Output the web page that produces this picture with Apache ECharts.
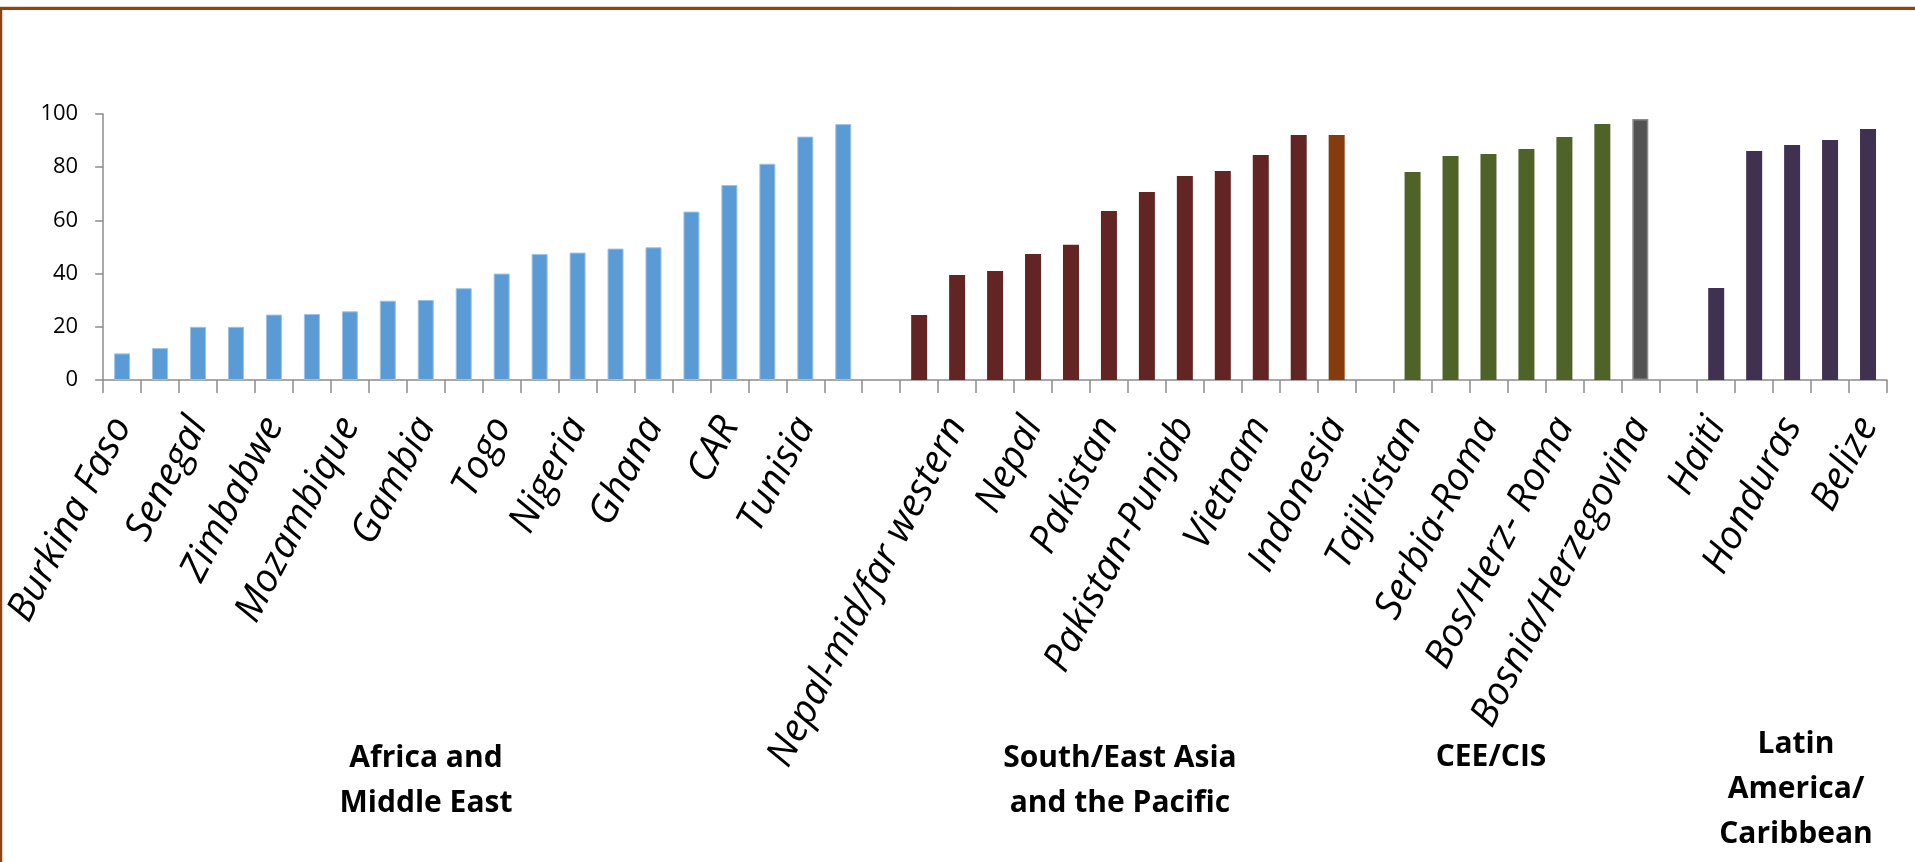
<!DOCTYPE html>
<html>
<head>
<meta charset="utf-8">
<script src="https://cdn.jsdelivr.net/npm/echarts@6/dist/echarts.min.js"></script>
<style>
  html, body { margin: 0; padding: 0; background: #ffffff; }
  #chart { width: 1915px; height: 862px; }
</style>
</head>
<body>
<div id="chart"></div>
<script>
// ---- Data ----
const categories = [
  'Burkina Faso', '', 'Senegal', '', 'Zimbabwe', '', 'Mozambique', '', 'Gambia', '',
  'Togo', '', 'Nigeria', '', 'Ghana', '', 'CAR', '', 'Tunisia', '',
  '',
  '', 'Nepal-mid/far western', '', 'Nepal', '', 'Pakistan', '', 'Pakistan-Punjab', '', 'Vietnam', '', 'Indonesia',
  '',
  'Tajikistan', '', 'Serbia-Roma', '', 'Bos/Herz- Roma', '', 'Bosnia/Herzegovina',
  '',
  'Haiti', '', 'Honduras', '', 'Belize'
];

const values = [
  10, 12, 20, 20, 24.6, 24.8, 25.8, 29.8, 30.1, 34.5,
  40, 47.4, 47.9, 49.4, 49.9, 63.3, 73.3, 81.3, 91.5, 96.2,
  null,
  24.4, 39.5, 41, 47.4, 50.8, 63.5, 70.7, 76.7, 78.6, 84.6, 92.1, 92.1,
  null,
  78.2, 84.2, 85, 86.8, 91.4, 96.2, 98.1,
  null,
  34.6, 86.1, 88.3, 90.2, 94.4
];

const regions = [
  'AME','AME','AME','AME','AME','AME','AME','AME','AME','AME',
  'AME','AME','AME','AME','AME','AME','AME','AME','AME','AME',
  '',
  'SEA','SEA','SEA','SEA','SEA','SEA','SEA','SEA','SEA','SEA','SEA','SEA',
  '',
  'CEE','CEE','CEE','CEE','CEE','CEE','CEE',
  '',
  'LAC','LAC','LAC','LAC','LAC'
];

const groupLabels = [
  'Africa and\nMiddle East',
  'South/East Asia\nand the Pacific',
  'CEE/CIS',
  'Latin\nAmerica/\nCaribbean'
];

// ---- Styles ----
const regionColor = { AME: '#5B9BD5', SEA: '#632523', CEE: '#4F6228', LAC: '#403151' };
const specialColor = { 'Indonesia': '#843C0C', 'Bosnia/Herzegovina': '#525252' };
const groupLabelPos = [[426, 781], [1120, 781], [1491, 757], [1796, 789]];

const barData = values.map((v, i) => {
  const name = categories[i];
  let color = regionColor[regions[i]] || '#000';
  const item = { value: v, itemStyle: { color: color } };
  if (specialColor[name]) {
    item.itemStyle.color = specialColor[name];
    if (name === 'Bosnia/Herzegovina') {
      item.itemStyle.borderColor = '#8a8a8a';
      item.itemStyle.borderWidth = 1.5;
    }
  } else if (regions[i] === 'AME') {
    item.itemStyle.borderColor = '#9cc2e8';
    item.itemStyle.borderWidth = 1;
  }
  return item;
});

const chart = echarts.init(document.getElementById('chart'), null, { renderer: 'canvas' });

const graphics = [
  { type: 'line', shape: { x1: 0, y1: 6.5, x2: 1915, y2: 6.5 }, style: { stroke: '#e8d8c8', lineWidth: 1 }, silent: true },
  { type: 'line', shape: { x1: 0, y1: 8.5, x2: 1915, y2: 8.5 }, style: { stroke: '#8B4513', lineWidth: 3 }, silent: true },
  { type: 'line', shape: { x1: 1, y1: 7, x2: 1, y2: 862 }, style: { stroke: '#8B4513', lineWidth: 2.5 }, silent: true }
];
groupLabels.forEach((t, k) => {
  graphics.push({
    type: 'text',
    x: groupLabelPos[k][0],
    y: groupLabelPos[k][1],
    silent: true,
    style: {
      text: t,
      fill: '#000',
      font: 'bold 30px "Open Sans", sans-serif',
      align: 'center',
      verticalAlign: 'middle',
      lineHeight: 45
    }
  });
});

chart.setOption({
  backgroundColor: '#ffffff',
  animation: false,
  grid: { left: 92, right: 28, top: 114, bottom: 482, containLabel: false },
  xAxis: {
    type: 'category',
    data: categories,
    boundaryGap: true,
    axisLine: { show: true, lineStyle: { color: '#8c8c8c', width: 1.5 } },
    axisTick: { show: true, interval: 0, length: 13, lineStyle: { color: '#8c8c8c', width: 1.5 } },
    axisLabel: {
      interval: 0,
      rotate: 62.5,
      margin: 40,
      color: '#000',
      fontSize: 39,
      fontStyle: 'italic',
      fontFamily: '"Open Sans", sans-serif'
    },
    splitLine: { show: false }
  },
  yAxis: {
    type: 'value',
    min: 0,
    max: 100,
    interval: 20,
    axisLine: { show: true, lineStyle: { color: '#8c8c8c', width: 1.5 } },
    axisTick: { show: true, length: 8, lineStyle: { color: '#8c8c8c', width: 1.5 } },
    axisLabel: { color: '#000', fontSize: 22, margin: 25, fontFamily: '"Open Sans", sans-serif' },
    splitLine: { show: false }
  },
  series: [{
    type: 'bar',
    data: barData,
    barWidth: 16
  }],
  graphic: graphics
});
</script>
</body>
</html>
